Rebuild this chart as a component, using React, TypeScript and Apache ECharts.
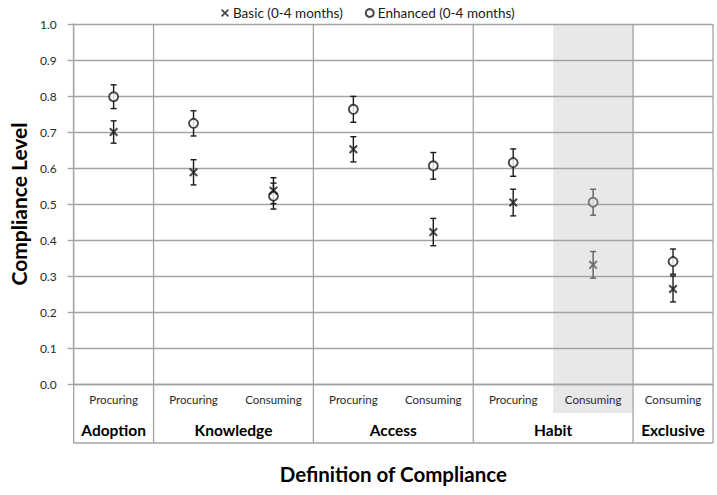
import React, { useEffect, useRef } from "react";
import * as echarts from "echarts";

const categories = ["Procuring", "Procuring", "Consuming", "Procuring", "Consuming", "Procuring", "Consuming", "Consuming"];
const groupNames = ["Adoption", "Knowledge", "Access", "Habit", "Exclusive"];
const groupStart = [0, 1, 3, 5, 7];
const groupSize = [1, 2, 2, 2, 1];
const basic = [0.7, 0.588, 0.537, 0.652, 0.422, 0.504, 0.331, 0.264];
const basicErr = [0.031, 0.035, 0.036, 0.035, 0.038, 0.037, 0.037, 0.036];
const enhanced = [0.798, 0.724, 0.522, 0.763, 0.606, 0.615, 0.505, 0.34];
const enhancedErr = [0.033, 0.035, 0.036, 0.036, 0.037, 0.038, 0.036, 0.035];
const yTicks = [0, 0.1, 0.2, 0.3, 0.4, 0.5, 0.6, 0.7, 0.8, 0.9, 1.0];
const highlightIndex = 6;

const GRID = "#a3a3a3";
const INK = "#1a1a1a";
const FADED = "#606060";
const SHADE = "#e8e8e8";
const X_PATH = "path://M0,1.6L1.6,0L5,3.4L8.4,0L10,1.6L6.6,5L10,8.4L8.4,10L5,6.6L1.6,10L0,8.4L3.4,5Z";

export default function App() {
  const ref = useRef<HTMLDivElement>(null);
  useEffect(() => {
    if (!ref.current) return;
    const chart = echarts.init(ref.current, null, { renderer: "svg" });
    const errData = [
      ...basic.map((v, i) => [i, v - basicErr[i], v + basicErr[i]]),
      ...enhanced.map((v, i) => [i, v - enhancedErr[i], v + enhancedErr[i]]),
    ];
    const option: any = {
      animation: false,
      textStyle: { fontFamily: "Lato" },
      legend: {
        top: 1,
        left: 216,
        itemWidth: 8,
        itemHeight: 8,
        itemGap: 22,
        textStyle: { fontSize: 13.5, color: "#1a1a1a", fontFamily: "Lato", padding: [0, 0, 0, -1] },
        data: [
          { name: "Basic (0-4 months)", icon: X_PATH },
          { name: "Enhanced (0-4 months)", icon: "circle" },
        ],
      },
      grid: { left: 64, right: 4, top: 24, bottom: 111 },
      xAxis: {
        type: "category",
        data: categories,
        boundaryGap: true,
        axisTick: { show: false },
        axisLine: { show: true, lineStyle: { color: GRID, width: 1.3 } },
        axisLabel: { margin: 9, fontSize: 11.5, color: "#2a2a2a", fontFamily: "Lato", interval: 0 },
        splitLine: { show: false },
        name: "Definition of Compliance",
        nameLocation: "middle",
        nameGap: 79,
        nameTextStyle: { fontSize: 20.5, fontWeight: "bold", color: "#000", fontFamily: "Lato" },
      },
      yAxis: {
        type: "value",
        min: 0,
        max: 1,
        interval: 0.1,
        axisLine: { show: true, lineStyle: { color: GRID, width: 1.3 } },
        axisTick: { show: true, length: 6, lineStyle: { color: GRID, width: 1.3 } },
        axisLabel: {
          margin: 17,
          fontSize: 12,
          color: "#2a2a2a",
          fontFamily: "Lato",
          formatter: (v: number) => {
            const t = yTicks.find((x) => Math.abs(x - v) < 1e-6);
            return (t !== undefined ? t : v).toFixed(1);
          },
        },
        splitLine: { show: true, lineStyle: { color: GRID, width: 1.3 } },
        name: "Compliance Level",
        nameLocation: "middle",
        nameGap: 40,
        nameTextStyle: { fontSize: 21, fontWeight: "bold", color: "#000", fontFamily: "Lato" },
      },
      series: [
        {
          type: "custom",
          name: "shade",
          z: -1,
          silent: true,
          data: [[highlightIndex, 0]],
          renderItem: (params: any, api: any) => {
            const i = api.value(0);
            const band = api.size([1, 0])[0];
            const base = api.coord([i, 0]);
            const top = api.coord([i, 1])[1];
            return {
              type: "rect",
              shape: { x: base[0] - band / 2, y: top, width: band, height: base[1] + 29 - top },
              style: { fill: SHADE },
            };
          },
        },
        {
          type: "custom",
          name: "table",
          z: 3,
          silent: true,
          data: groupStart.map((s, k) => [s, groupSize[k]]),
          renderItem: (params: any, api: any) => {
            const s = api.value(0);
            const n = api.value(1);
            const band = api.size([1, 0])[0];
            const base = api.coord([s, 0]);
            const top = api.coord([s, 1])[1];
            const left = base[0] - band / 2;
            const right = left + n * band;
            const bottom = base[1] + 59;
            const ls = { stroke: GRID, lineWidth: 1.3 };
            const children: any[] = [
              { type: "line", shape: { x1: right, y1: top, x2: right, y2: bottom }, style: ls },
              { type: "line", shape: { x1: left, y1: bottom, x2: right, y2: bottom }, style: ls },
              {
                type: "text",
                x: (left + right) / 2,
                y: base[1] + 46,
                style: {
                  text: groupNames[params.dataIndex],
                  fill: "#000",
                  font: "bold 15.5px Lato",
                  align: "center",
                  verticalAlign: "middle",
                },
              },
            ];
            if (params.dataIndex === 0) {
              children.push({ type: "line", shape: { x1: left, y1: top, x2: left, y2: bottom }, style: ls });
            }
            return { type: "group", children };
          },
        },
        {
          type: "custom",
          name: "errors",
          z: 4,
          silent: true,
          data: errData,
          renderItem: (params: any, api: any) => {
            const i = api.value(0);
            const lo = api.coord([i, api.value(1)]);
            const hi = api.coord([i, api.value(2)]);
            const c = i === highlightIndex ? FADED : INK;
            const st = { stroke: c, lineWidth: 1.4 };
            const w = 3;
            return {
              type: "group",
              children: [
                { type: "line", shape: { x1: lo[0], y1: lo[1], x2: hi[0], y2: hi[1] }, style: st },
                { type: "line", shape: { x1: lo[0] - w, y1: lo[1], x2: lo[0] + w, y2: lo[1] }, style: st },
                { type: "line", shape: { x1: hi[0] - w, y1: hi[1], x2: hi[0] + w, y2: hi[1] }, style: st },
              ],
            };
          },
        },
        {
          type: "scatter",
          name: "Enhanced (0-4 months)",
          z: 5,
          symbol: "circle",
          symbolSize: 9,
          itemStyle: { color: "#fff", borderColor: INK, borderWidth: 1.9 },
          data: enhanced.map((v, i) =>
            i === highlightIndex
              ? { value: [i, v], itemStyle: { color: SHADE, borderColor: FADED } }
              : { value: [i, v] }
          ),
        },
        {
          type: "scatter",
          name: "Basic (0-4 months)",
          z: 6,
          symbol: X_PATH,
          symbolSize: 9,
          itemStyle: { color: INK },
          data: basic.map((v, i) =>
            i === highlightIndex ? { value: [i, v], itemStyle: { color: FADED } } : { value: [i, v] }
          ),
        },
      ],
    };
    chart.setOption(option);
    return () => chart.dispose();
  }, []);
  return (
    <div
      ref={ref}
      style={{ position: "fixed", left: 0, top: 0, width: 717, height: 495, background: "#fff" }}
    />
  );
}
